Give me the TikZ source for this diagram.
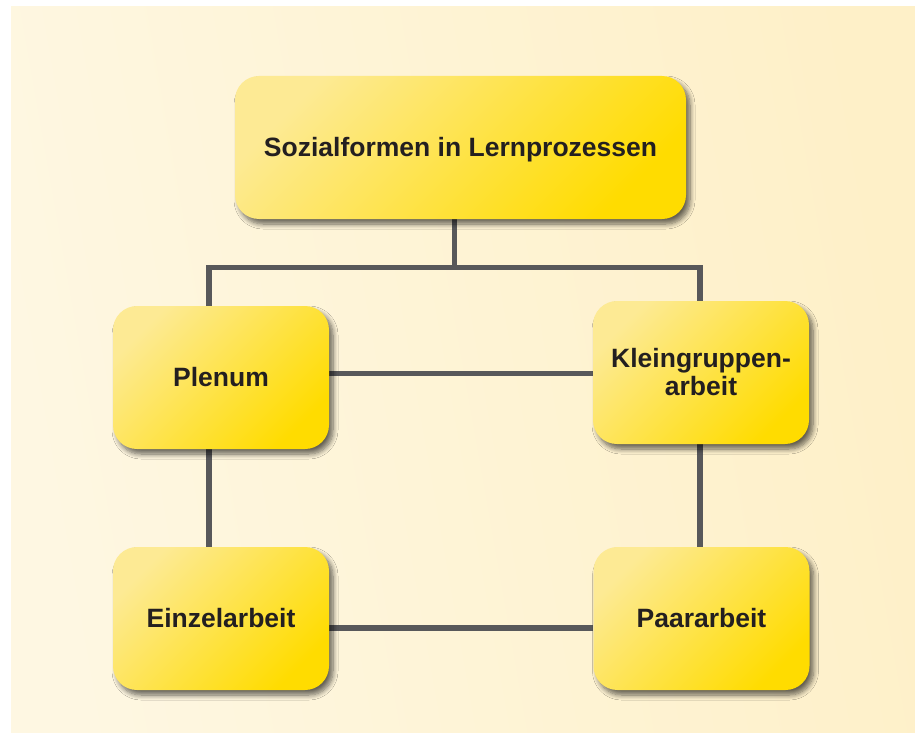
\documentclass[tikz,border=0pt]{standalone}
\usepackage{fontspec}
\setmainfont{Liberation Sans}
\usetikzlibrary{shadows.blur}
\definecolor{panelL}{HTML}{FEF7E2}
\definecolor{panelR}{HTML}{FEF0C8}
\definecolor{boxLight}{HTML}{FDEA94}
\definecolor{boxDark}{HTML}{FFDC00}
\definecolor{linkgray}{HTML}{58585A}
\definecolor{ink}{HTML}{231F20}
% card text, set slightly below the geometric centre
\newcommand{\cardtext}[1]{\raisebox{-3pt}[\height][\depth]{\begin{tabular}{@{}c@{}}#1\end{tabular}}}
\begin{document}
\begin{tikzpicture}[x=1pt,y=-1pt,
  slot/.style={minimum width=216pt, minimum height=143pt, inner sep=0pt},
  card/.style={slot, rounded corners=24pt, align=center, text=ink,
    font=\fontsize{26.5}{28}\selectfont\bfseries,
    top color=boxLight, bottom color=boxDark, shading angle=45,
    blur shadow={shadow xshift=4pt, shadow yshift=-5pt, shadow blur radius=5pt,
      shadow blur steps=8, shadow opacity=60}},
  link/.style={draw=linkgray, line width=5.5pt}]
  % page and panel
  \useasboundingbox (0,0) rectangle (915,733);
  \fill[white] (0,0) rectangle (915,733);
  \shade[left color=panelL, right color=panelR, shading angle=100] (11,7) rectangle (915,733);

  % outlines of the cards, used to route the connectors
  \node[slot, minimum width=451pt] (top) at (460.5,147.5) {};
  \node[slot] (plenum) at (221,377.5) {};
  \node[slot] (klein) at (701,372.5) {};
  \node[slot] (einzel) at (221,618.5) {};
  \node[slot] (paar) at (701.5,618.5) {};

  % routing coordinates
  \coordinate (hub) at (454.5,267.5);
  \coordinate (lx) at (209,0);
  \coordinate (rx) at (700,0);
  \coordinate (m1) at (0,373.5);
  \coordinate (m2) at (0,628);

  % connectors
  \draw[link] (top.south -| hub) -- (hub);
  \draw[link] (plenum.north -| lx) -- (lx |- hub) -- (rx |- hub) -- (klein.north -| rx);
  \draw[link] (plenum.east |- m1) -- (klein.west |- m1);
  \draw[link] (plenum.south -| lx) -- (einzel.north -| lx);
  \draw[link] (klein.south -| rx) -- (paar.north -| rx);
  \draw[link] (einzel.east |- m2) -- (paar.west |- m2);

  % cards on top of the connectors
  \node[card, minimum width=451pt] (topcard) at (top) {\cardtext{Sozialformen in Lernprozessen}};
  \node[card] (plenumcard) at (plenum) {\cardtext{Plenum}};
  \node[card] (kleincard) at (klein) {\cardtext{Kleingruppen-\\arbeit}};
  \node[card] (einzelcard) at (einzel) {\cardtext{Einzelarbeit}};
  \node[card] (paarcard) at (paar) {\cardtext{Paararbeit}};
\end{tikzpicture}
\end{document}
